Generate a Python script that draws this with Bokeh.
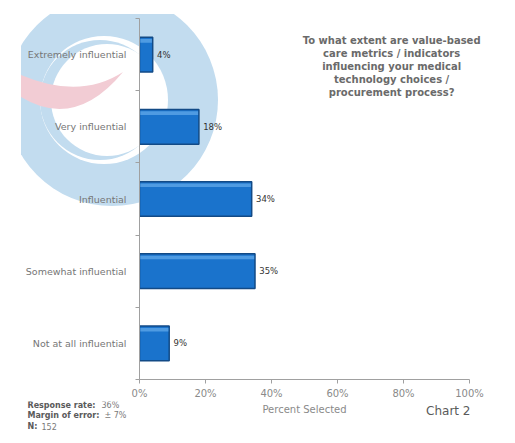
import urllib.parse
from bokeh.plotting import figure
from bokeh.layouts import column
from bokeh.models import Range1d, FixedTicker, PrintfTickFormatter, Label
from bokeh.core.properties import value
from bokeh.embed import file_html
from bokeh.resources import INLINE

# ---- data ----
categories = ["Extremely influential", "Very influential", "Influential",
              "Somewhat influential", "Not at all influential"]
values = [4, 18, 34, 35, 9]
value_labels = ["4%", "18%", "34%", "35%", "9%"]
x_ticks = [0, 20, 40, 60, 80, 100]
title_lines = ["To what extent are value-based", "care metrics / indicators",
               "influencing your medical", "technology choices /",
               "procurement process?"]
foot_keys = ["Response rate:", "Margin  of error:", "N:"]
foot_vals = ["36%", "\u00b1 7%", "152"]
x_label = "Percent Selected"
chart_tag = "Chart 2"

FONT = "DejaVu Sans"
n = len(categories)
ys = [n - 0.5 - i for i in range(n)]

# ---- decorative watermark (CSS background behind the transparent canvas) ----
wm_svg = (
    '<svg xmlns="http://www.w3.org/2000/svg" width="507" height="400">'
    '<defs><clipPath id="c"><rect x="21" y="14" width="300" height="300"/></clipPath></defs>'
    '<g clip-path="url(#c)">'
    '<circle cx="112" cy="100" r="106" fill="rgb(194,220,239)"/>'
    '<circle cx="104" cy="100" r="64" fill="white"/>'
    '<circle cx="100" cy="100" r="60" fill="rgb(194,220,239)"/>'
    '<circle cx="107" cy="100" r="56" fill="white"/>'
    '<path d="M 21 75 Q 80 100 123 72 Q 75 130 21 97 Z" fill="rgb(242,204,212)"/>'
    '</g></svg>'
)
wm_url = "data:image/svg+xml;charset=utf-8," + urllib.parse.quote(wm_svg)

p = figure(frame_width=368, frame_height=361, output_backend="svg",
           toolbar_location=None,
           x_range=Range1d(0, 368 / 3.3), y_range=Range1d(0, n),
           min_border_left=139, min_border_right=0, min_border_top=18,
           min_border_bottom=19)
p.frame_align = False
p.outline_line_color = None
p.xgrid.visible = False
p.ygrid.visible = False
p.background_fill_alpha = 0
p.border_fill_alpha = 0
p.styles = {"background-image": f"url('{wm_url}')",
            "background-repeat": "no-repeat",
            "background-position": "0 0",
            "background-color": "white"}

# ---- bars ----
p.hbar(y=ys, right=values, left=0, height=0.48, fill_color="#1a73cc",
       line_color="#124a86", line_width=1.5)
p.hbar(y=[v + 0.19 for v in ys], right=[v - 0.25 for v in values], left=0.25,
       height=0.05, fill_color="#4f9be2", line_alpha=0)
p.text(x=[v + 1.3 for v in values], y=ys, text=value_labels,
       text_font=value(FONT), text_font_size="8.5px", text_color="#333333",
       text_baseline="middle", text_align="left")

# ---- axes ----
xa = p.xaxis[0]
xa.ticker = FixedTicker(ticks=x_ticks)
xa.bounds = (0, 100)
xa.formatter = PrintfTickFormatter(format="%d%%")
xa.axis_line_color = "#a0a0a0"
xa.major_tick_line_color = "#a0a0a0"
xa.major_tick_out = 4
xa.major_tick_in = 0
xa.minor_tick_line_color = None
xa.major_label_text_font = FONT
xa.major_label_text_font_size = "10px"
xa.major_label_text_color = "#8a8a8a"
xa.major_label_standoff = 4

ya = p.yaxis[0]
ya.ticker = FixedTicker(ticks=ys, minor_ticks=list(range(n + 1)))
ya.major_label_overrides = {y: c for y, c in zip(ys, categories)}
ya.axis_line_color = "#a0a0a0"
ya.major_tick_line_color = None
ya.major_tick_out = 0
ya.major_tick_in = 0
ya.minor_tick_line_color = "#a0a0a0"
ya.minor_tick_out = 4
ya.minor_tick_in = 0
ya.major_label_text_font = FONT
ya.major_label_text_font_size = "9.5px"
ya.major_label_text_color = "#767676"
ya.major_label_standoff = 9

# ---- question text ----
for i, line in enumerate(title_lines):
    p.add_layout(Label(x=76.4, y=n - (40 + 13 * i - 18) / 72.2, text=line,
                       text_font=FONT, text_font_size="10px",
                       text_font_style="bold", text_color="#6a6a6a",
                       text_align="center", text_baseline="middle"))

# ---- bottom strip: axis title, footnote, chart tag ----
f2 = figure(width=507, height=36, output_backend="svg", toolbar_location=None,
            x_range=Range1d(0, 507), y_range=Range1d(36, 0),
            x_axis_type=None, y_axis_type=None, min_border=0)
f2.frame_align = False
f2.outline_line_color = None
f2.xgrid.visible = False
f2.ygrid.visible = False

F = value(FONT)
f2.text(x=[304], y=[8], text=[x_label], text_font=F, text_font_size="10px",
        text_color="#8a8a8a", text_align="center", text_baseline="middle")
f2.text(x=[470], y=[9], text=[chart_tag], text_font=F, text_font_size="12px",
        text_color="#5a5a5a", text_align="right", text_baseline="middle")
f2.text(x=[27, 27, 27], y=[3.5, 14, 24.5], text=foot_keys, text_font=F,
        text_font_size="8px", text_font_style="bold", text_color="#5a5a5a",
        text_baseline="middle")
f2.text(x=[101, 104, 41], y=[3.5, 14, 24.5], text=foot_vals, text_font=F,
        text_font_size="8px", text_color="#7a7a7a", text_baseline="middle")

layout = column(p, f2, spacing=0)
open("out.html", "w").write(file_html(layout, INLINE))
